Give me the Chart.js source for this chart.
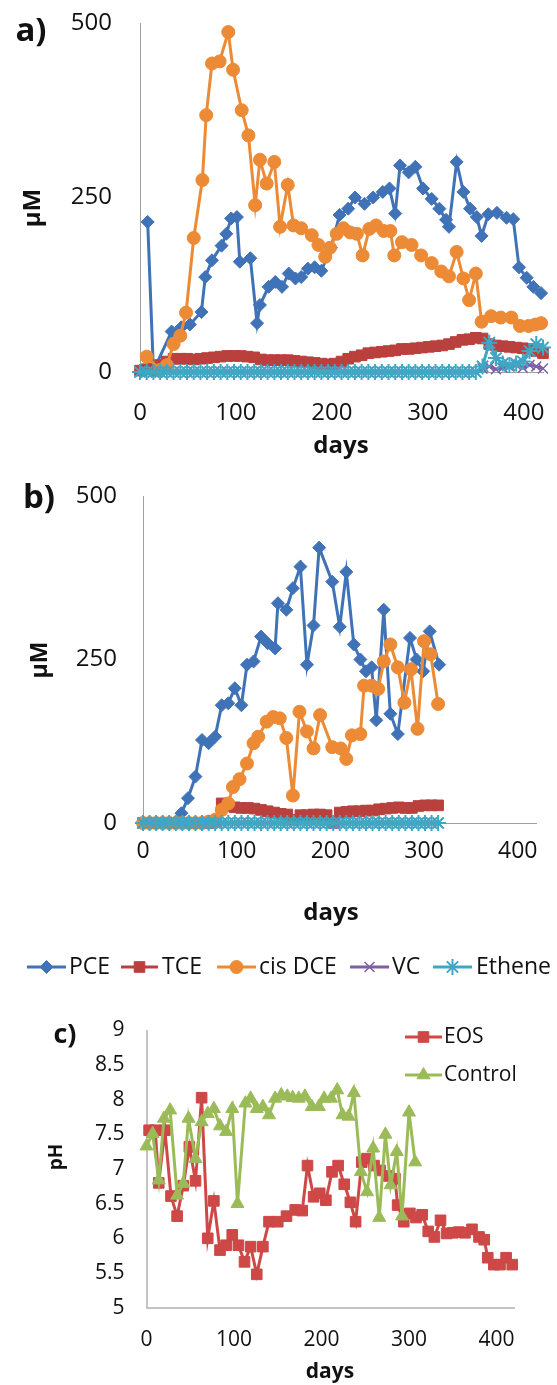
<!DOCTYPE html>
<html>
<head>
<meta charset="utf-8">
<script src="https://cdn.jsdelivr.net/npm/chart.js@4.4.1/dist/chart.umd.min.js"></script>
<style>
  body { margin: 0; background: #fff; width: 557px; height: 1385px; position: relative; overflow: hidden; font-family: 'Open Sans', sans-serif; }
  canvas { position: absolute; left: 0; }
  .lbl { position: absolute; transform: translate(-50%, -50%); white-space: nowrap; color: #111; font-weight: bold; }
  .rot { transform: translate(-50%, -50%) rotate(-90deg); }
</style>
</head>
<body>
<canvas id="chartA" width="557" height="470" style="top:0px"></canvas>
<canvas id="chartB" width="557" height="530" style="top:470px"></canvas>
<canvas id="chartC" width="557" height="385" style="top:1000px"></canvas>

<div class="lbl" style="left:31px;top:28px;font-size:33px">a)</div>
<div class="lbl rot" style="left:30px;top:208px;font-size:24px">µM</div>
<div class="lbl" style="left:341px;top:443px;font-size:24px">days</div>

<div class="lbl" style="left:39px;top:495px;font-size:33px">b)</div>
<div class="lbl rot" style="left:38px;top:660px;font-size:23px">µM</div>
<div class="lbl" style="left:331px;top:910px;font-size:24px">days</div>

<div class="lbl" style="left:65px;top:1032px;font-size:27px">c)</div>
<div class="lbl rot" style="left:55px;top:1157px;font-size:19px">pH</div>
<div class="lbl" style="left:330px;top:1370px;font-size:21px">days</div>

<script>
// ---- panel a) ----
const pceDaysA = [8,14,33,43,52,64,68,75,85,90,95,101,104,115,122,125,134,141,148,155,162,168,175,182,189,199,208,217,224,234,243,253,260,266,271,280,287,295,304,312,319,322,330,337,344,351,356,363,372,382,389,395,403,410,418];
const pceA = [215,2,58,64,68,86,136,160,181,198,220,222,158,163,70,96,122,129,122,141,134,136,148,150,145,178,225,234,250,241,250,258,263,227,296,286,294,263,248,234,218,208,301,258,234,222,195,226,228,221,219,150,135,122,113];

const dceDaysA = [7,21,28,35,42,48,56,65,69,75,83,92,97,106,113,120,125,132,140,146,154,160,168,179,186,193,198,205,212,219,226,232,239,246,254,261,265,273,283,293,304,314,322,330,337,343,350,356,366,376,387,396,405,412,418];
const dceA = [22,3,10,40,52,85,192,275,368,442,445,487,433,375,339,239,304,270,301,208,268,210,206,196,182,165,178,198,206,200,198,167,205,210,202,202,167,186,182,167,156,144,137,172,134,103,141,72,80,78,78,66,66,68,70];

const daysA = [0,7,14,21,28,35,42,49,56,63,70,77,84,91,98,105,112,119,126,133,140,147,154,161,168,175,182,189,196,203,210,217,224,231,238,245,252,259,266,273,280,287,294,301,308,315,322,329,336,343,350,357,364,371,378,385,392,399,406,413,420];
const tceA = [2,4,5,10,15,19,19,19,18,19,20,21,22,23,23,23,22,21,18,17,17,17,17,16,15,14,13,12,11,12,15,19,22,24,27,28,29,30,31,33,33,34,35,36,37,38,40,43,46,47,49,48,40,38,37,36,35,34,33,30,27];
const vcA = [0,0,0,0,0,0,0,0,0,0,0,0,0,0,0,0,0,0,0,0,0,0,0,0,0,0,0,0,0,0,0,0,0,0,0,0,0,0,0,0,0,0,0,0,0,0,0,0,0,0,0,5,8,4,6,8,10,6,10,8,5];
const etheneA = [0,0,0,0,0,0,0,0,0,0,0,0,0,0,0,0,0,0,0,0,0,0,0,0,0,0,0,0,0,0,0,0,0,0,0,0,0,0,0,0,0,0,0,0,0,0,0,0,0,0,0,8,42,20,12,10,12,15,30,40,35];

// ---- panel b) ----
const pceDaysB = [0,7,14,21,28,35,41,48,56,63,70,77,84,91,98,105,111,118,126,133,141,144,153,160,168,175,182,188,202,210,217,225,232,238,244,249,257,264,272,285,292,299,306,316];
const pceB = [0,0,0,0,0,2,15,38,71,127,122,132,180,183,206,180,242,247,285,275,267,336,326,359,392,242,302,421,369,300,384,273,250,232,238,157,326,167,136,283,250,232,293,242];

const dceDaysB = [0,7,14,21,28,35,42,49,56,63,70,77,84,91,96,103,111,118,123,132,139,146,153,160,167,175,182,189,202,211,217,223,232,236,244,251,257,264,272,279,286,293,300,307,315];
const dceB = [0,0,0,0,0,0,0,0,0,0,2,5,20,30,55,67,91,122,132,155,162,160,130,42,170,140,114,165,116,114,98,134,136,210,210,205,247,273,238,184,235,144,278,258,182];

const daysB = [0,7,14,21,28,35,42,49,56,63,70,77,84,91,98,105,112,119,126,133,140,147,154,161,168,175,182,189,196,203,210,217,224,231,238,245,252,259,266,273,280,287,294,301,308,315];
const tceB = [0,0,0,0,0,0,0,0,0,0,0,3,30,26,24,23,23,22,20,18,16,14,13,5,12,12,13,13,12,0,16,17,18,18,19,19,21,22,23,24,23,23,26,27,27,27];
const vcB = [0,0,0,0,0,0,0,0,0,0,0,0,0,0,0,0,0,0,0,0,0,0,0,0,0,0,0,0,0,0,0,0,0,0,0,0,0,0,0,0,0,0,0,0,0,0];
const etheneB = [0,0,0,0,0,0,0,0,0,0,0,0,0,0,0,0,0,0,0,0,0,0,0,0,0,0,0,0,0,0,0,0,0,0,0,0,0,0,0,0,0,0,0,0,0,0];

// ---- panel c) ----
const eosDays = [3,10,14,21,28,35,42,49,56,63,70,77,84,91,98,105,112,119,126,133,140,150,160,170,178,184,191,198,205,212,219,226,233,239,246,252,260,267,277,284,287,294,301,308,315,322,329,336,343,350,357,364,372,380,386,390,397,404,411,418];
const eosPH = [7.56,7.56,6.8,7.56,6.61,6.32,6.76,7.32,6.83,8.03,6.0,6.54,5.83,5.9,6.05,5.9,5.66,5.88,5.48,5.88,6.24,6.24,6.32,6.41,6.4,7.05,6.6,6.65,6.55,6.96,7.05,6.78,6.52,6.24,7.1,7.15,7.05,6.98,6.9,6.86,6.48,6.24,6.36,6.3,6.34,6.1,6.02,6.26,6.07,6.08,6.09,6.08,6.13,6.02,5.98,5.72,5.62,5.62,5.72,5.62];

const ctrlDays = [0,7,14,20,27,35,42,48,56,63,70,77,84,91,98,104,113,119,126,133,140,147,154,161,167,174,181,189,197,203,211,218,224,231,237,245,252,259,266,273,279,286,292,300,307];
const ctrlPH = [7.33,7.51,6.84,7.73,7.85,6.62,6.79,7.73,7.15,7.68,7.8,7.87,7.62,7.54,7.87,6.5,7.95,8.02,7.87,7.9,7.78,8.02,8.07,8.05,8.03,8.02,8.05,7.9,7.9,8.02,8.02,8.14,7.78,7.76,8.1,6.96,6.67,7.3,6.3,7.5,6.77,7.25,6.32,7.82,7.1];

const xTicks = [0, 100, 200, 300, 400];

Chart.defaults.font.family = "'Open Sans', sans-serif";
Chart.defaults.color = '#111';

// Excel-like marker styles; order: lower order is drawn on top
const estilos = {
  pce:    { color: '#3F72B6', pointStyle: 'rectRot',  pointRadius: 6.5, pointBorderWidth: 1,   order: 4 },
  tce:    { color: '#B9403D', pointStyle: 'rect',     pointRadius: 7.5, pointBorderWidth: 1,   order: 3 },
  dce:    { color: '#EC8A35', pointStyle: 'circle',   pointRadius: 6.5, pointBorderWidth: 1,   order: 2 },
  vc:     { color: '#7D5FA6', pointStyle: 'crossRot', pointRadius: 7,   pointBorderWidth: 1.5, order: 1 },
  ethene: { color: '#3FA6C4', pointStyle: 'star',     pointRadius: 8,   pointBorderWidth: 2,   order: 0 },
  eos:    { color: '#CD4846', pointStyle: 'rect',     pointRadius: 7.5, pointBorderWidth: 1,   order: 1 },
  ctrl:   { color: '#9BBB59', pointStyle: 'triangle', pointRadius: 7.5, pointBorderWidth: 1,   order: 0 }
};

function serie(label, days, vals, st) {
  return {
    label: label,
    data: days.map((d, i) => ({ x: d, y: vals[i] })),
    borderColor: st.color,
    backgroundColor: st.color,
    pointBackgroundColor: st.color,
    pointBorderColor: st.color,
    pointStyle: st.pointStyle,
    pointRadius: st.pointRadius,
    pointBorderWidth: st.pointBorderWidth,
    borderWidth: 3,
    order: st.order,
    clip: false
  };
}

// legend drawn like Excel: line with the marker in the middle, then the text
const excelLegend = {
  id: 'excelLegend',
  afterDraw(chart, args, opts) {
    if (!opts.items) return;
    const ctx = chart.ctx;
    ctx.save();
    ctx.font = opts.font;
    ctx.textBaseline = 'middle';
    opts.items.forEach(it => {
      const ds = chart.data.datasets[it.ds];
      ctx.strokeStyle = ds.borderColor;
      ctx.lineWidth = 3;
      ctx.beginPath();
      ctx.moveTo(it.x0, it.y);
      ctx.lineTo(it.x1, it.y);
      ctx.stroke();
      ctx.fillStyle = ds.pointBackgroundColor;
      ctx.strokeStyle = ds.pointBorderColor;
      ctx.lineWidth = ds.pointBorderWidth;
      Chart.helpers.drawPoint(ctx, {
        pointStyle: ds.pointStyle, radius: ds.pointRadius, rotation: 0, borderWidth: ds.pointBorderWidth
      }, (it.x0 + it.x1) / 2, it.y);
      ctx.fillStyle = '#111';
      ctx.fillText(ds.label, it.tx, it.y);
    });
    ctx.restore();
  }
};

function crearGrafico(id, datasets, cfg) {
  return new Chart(document.getElementById(id), {
    type: 'line',
    data: { datasets: datasets },
    options: {
      responsive: false,
      animation: false,
      events: [],
      layout: { padding: { top: cfg.top, right: cfg.right, bottom: cfg.bottom, left: 0 } },
      plugins: {
        legend: { display: false },
        tooltip: { enabled: false },
        excelLegend: cfg.legend || {}
      },
      scales: {
        x: {
          type: 'linear', min: 0, max: 420,
          afterBuildTicks: s => { s.ticks = xTicks.map(v => ({ value: v })); },
          ticks: { font: { size: cfg.xFont }, padding: cfg.xPad, color: '#111' },
          grid: { display: false, drawTicks: false },
          border: { display: true, color: cfg.axisColor, width: cfg.axisWidth },
          afterFit: s => { s.height = cfg.xHeight; s.paddingLeft = 0; s.paddingRight = 0; }
        },
        y: {
          min: cfg.yMin, max: cfg.yMax,
          ticks: { stepSize: cfg.yStep, font: { size: cfg.yFont }, padding: cfg.yPad, color: '#111',
                   callback: v => String(v) },
          grid: { display: false, drawTicks: false },
          border: { display: true, color: cfg.axisColor, width: cfg.axisWidth },
          afterFit: s => { s.width = cfg.yWidth; s.paddingTop = 0; s.paddingBottom = 0; }
        }
      }
    },
    plugins: [excelLegend]
  });
}

crearGrafico('chartA', [
  serie('PCE', pceDaysA, pceA, estilos.pce),
  serie('TCE', daysA, tceA, estilos.tce),
  serie('cis DCE', dceDaysA, dceA, estilos.dce),
  serie('VC', daysA, vcA, estilos.vc),
  serie('Ethene', daysA, etheneA, estilos.ethene)
], { top: 23, right: 14, bottom: 0, xHeight: 98, yWidth: 140, yMin: 0, yMax: 500, yStep: 250,
     xFont: 24, yFont: 24, xPad: 27, yPad: 28, axisColor: '#A0A0A0', axisWidth: 1 });

crearGrafico('chartB', [
  serie('PCE', pceDaysB, pceB, estilos.pce),
  serie('TCE', daysB, tceB, estilos.tce),
  serie('cis DCE', dceDaysB, dceB, estilos.dce),
  serie('VC', daysB, vcB, estilos.vc),
  serie('Ethene', daysB, etheneB, estilos.ethene)
], { top: 26, right: 20.5, bottom: 70, xHeight: 107, yWidth: 143, yMin: 0, yMax: 500, yStep: 250,
     xFont: 23, yFont: 24, xPad: 15, yPad: 26, axisColor: '#A0A0A0', axisWidth: 1,
     legend: { font: "23px 'Open Sans', sans-serif", items: [
       { ds: 0, x0: 27,  x1: 66,  tx: 69,  y: 497 },
       { ds: 1, x0: 121, x1: 158, tx: 162, y: 497 },
       { ds: 2, x0: 217, x1: 256, tx: 259, y: 497 },
       { ds: 3, x0: 350, x1: 389, tx: 392, y: 497 },
       { ds: 4, x0: 433, x1: 472, tx: 476, y: 497 }
     ] } });

crearGrafico('chartC', [
  serie('EOS', eosDays, eosPH, estilos.eos),
  serie('Control', ctrlDays, ctrlPH, estilos.ctrl)
], { top: 30.5, right: 43, bottom: 0, xHeight: 77.4, yWidth: 146.5, yMin: 5, yMax: 9, yStep: 0.5,
     xFont: 21, yFont: 21, xPad: 20, yPad: 22, axisColor: '#C4C4C4', axisWidth: 2,
     legend: { font: "21px 'Open Sans', sans-serif", items: [
       { ds: 0, x0: 405, x1: 442, tx: 444, y: 37 },
       { ds: 1, x0: 405, x1: 442, tx: 444, y: 75 }
     ] } });
</script>
</body>
</html>
